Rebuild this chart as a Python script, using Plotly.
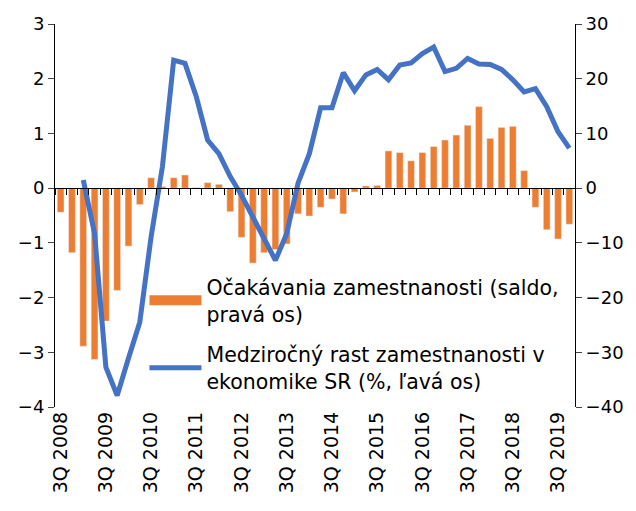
import plotly.graph_objects as go

quarters = ["3Q 2008","4Q 2008"] + [f"{q}Q {y}" for y in range(2009, 2020) for q in (1,2,3,4)]
bar_name = "Očakávania zamestnanosti (saldo,<br>pravá os)"
line_name = "Medziročný rast zamestnanosti v<br>ekonomike SR (%, ľavá os)"

expectations = [-4.4, -11.8, -28.9, -31.3, -24.3, -18.7, -10.6, -3.0, 1.9, 0.3,
                1.9, 2.4, 0.1, 1.0, 0.7, -4.3, -9.0, -13.7, -11.8, -11.2,
                -10.2, -4.7, -5.1, -3.5, -2.0, -4.7, -0.7, 0.4, 0.5, 6.8,
                6.5, 5.0, 6.5, 7.6, 8.8, 9.7, 11.5, 14.9, 9.1, 11.1,
                11.3, 3.2, -3.5, -7.6, -9.3, -6.6]
growth = [None, None, 0.15, -0.83, -3.27, -3.79, -3.11, -2.45, -0.89, 0.39,
          2.34, 2.28, 1.67, 0.88, 0.63, 0.21, -0.13, -0.52, -0.92, -1.32,
          -0.83, 0.09, 0.63, 1.47, 1.47, 2.11, 1.78, 2.07, 2.17, 1.98,
          2.25, 2.29, 2.46, 2.58, 2.13, 2.19, 2.37, 2.27, 2.26, 2.17,
          1.98, 1.76, 1.82, 1.49, 1.03, 0.73]

left_ticks = [-4, -3, -2, -1, 0, 1, 2, 3]
right_ticks = [-40, -30, -20, -10, 0, 10, 20, 30]

xs = list(range(len(quarters)))
label_idx = [i for i, q in enumerate(quarters) if q.startswith("3Q")]

ORANGE = "#ED7D31"
BLUE = "#4472C4"

fig = go.Figure()
fig.add_trace(go.Bar(x=xs, y=expectations, name=bar_name, marker_color=ORANGE,
                     yaxis="y", xaxis="x", showlegend=False, legendgroup="a"))
# legend entry for the bars, drawn as a thick swatch
fig.add_trace(go.Scatter(x=[None], y=[None], name=bar_name, mode="lines",
                         line=dict(color=ORANGE, width=14), yaxis="y", xaxis="x",
                         legendgroup="a"))
fig.add_trace(go.Scatter(x=xs, y=growth, name=line_name, mode="lines",
                         line=dict(color=BLUE, width=5), yaxis="y2", xaxis="x",
                         legendgroup="b"))
# invisible trace to carry the zero-line category axis
fig.add_trace(go.Scatter(x=[xs[0], xs[-1]], y=[0, 0], xaxis="x2", yaxis="y",
                         mode="lines", line=dict(width=0), showlegend=False, hoverinfo="skip"))

font = "DejaVu Sans"
fig.update_layout(
    width=636, height=511,
    margin=dict(l=55, r=59, t=24, b=104),
    paper_bgcolor="white", plot_bgcolor="white",
    font=dict(family=font, size=18, color="#000000"),
    bargap=0.4,
    showlegend=True,
    legend=dict(x=0.172, y=0.365, xanchor="left", yanchor="top",
                bgcolor="rgba(255,255,255,0)", font=dict(size=20.5, family=font),
                tracegroupgap=11, itemwidth=52, traceorder="grouped"),
    xaxis=dict(range=[-0.5, len(xs) - 0.5], tickmode="array",
               tickvals=[xs[i] for i in label_idx],
               ticktext=[quarters[i] for i in label_idx],
               tickangle=-90, showline=False, ticks="", showgrid=False,
               zeroline=False, tickfont=dict(size=19)),
    xaxis2=dict(range=[-0.5, len(xs) - 0.5], overlaying="x", anchor="free",
                position=4/7, showline=True, linecolor="black", linewidth=1,
                ticks="outside", ticklen=6, tickcolor="black",
                tickmode="linear", tick0=-0.5, dtick=1,
                showticklabels=False, showgrid=False, zeroline=False),
    yaxis=dict(range=[-40, 30], tickvals=right_ticks, side="right",
               showline=True, linecolor="black", linewidth=1, ticks="outside",
               ticklen=6, showgrid=False, zeroline=False),
    yaxis2=dict(range=[-4, 3], tickvals=left_ticks, side="left", overlaying="y",
                showline=True, linecolor="black", linewidth=1, ticks="outside",
                ticklen=6, showgrid=False, zeroline=False),
)

fig.write_html("out.html")
